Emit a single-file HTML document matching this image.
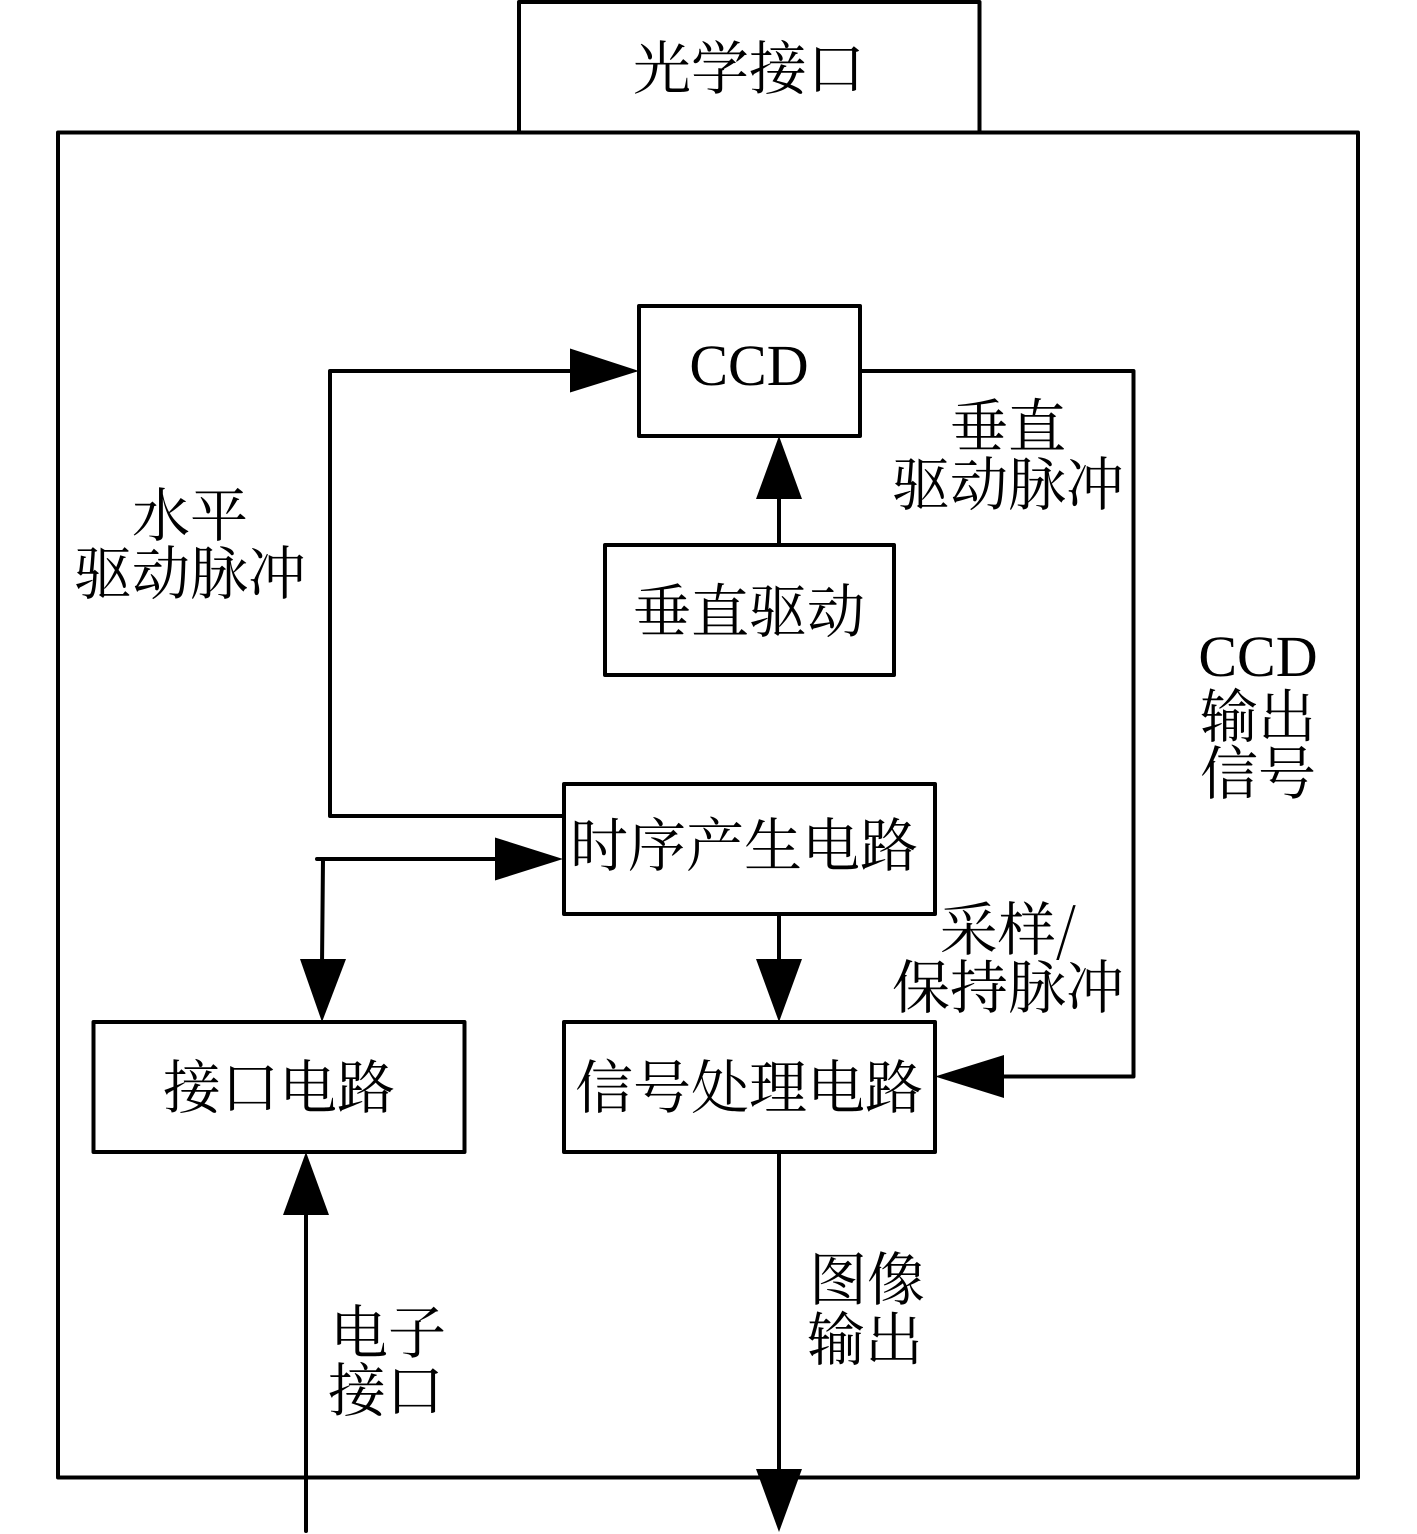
<!DOCTYPE html>
<html><head><meta charset="utf-8">
<style>
html,body{margin:0;padding:0;background:#fff}
svg{display:block}
text{font-family:"Noto Serif CJK SC","Liberation Serif",serif;font-size:58px;fill:#000;text-anchor:middle}
.l{font-family:"Liberation Serif",serif;font-size:58px}
</style></head>
<body>
<svg width="1417" height="1534" viewBox="0 0 1417 1534" xmlns="http://www.w3.org/2000/svg">
<g fill="none" stroke="#000" stroke-width="4" stroke-linejoin="round" stroke-linecap="round">
<path d="M519 132V2H979.500V132"/>
<rect x="58" y="132.500" width="1300" height="1345"/>
<rect x="639" y="306" width="221" height="130"/>
<rect x="605" y="545" width="289" height="130"/>
<rect x="564" y="784" width="371" height="130"/>
<rect x="564" y="1022" width="371" height="130"/>
<rect x="93.500" y="1022" width="371" height="130"/>
<path d="M564 816H330V371H575"/>
<path d="M860 371H1133.500V1076.500H1000"/>
<path d="M779 545V495"/>
<path d="M317 859H500"/>
<path d="M323 859L322 965"/>
<path d="M779 914V965"/>
<path d="M779 1152V1475"/>
<path d="M306 1531V1210"/>
</g>
<g fill="#000">
<path d="M639 371L570 348.500V392.500Z"/>
<path d="M779 436L756 499H802Z"/>
<path d="M563 859L495 837.500V880.500Z"/>
<path d="M322 1022L300 959H346Z"/>
<path d="M779 1022L756 959H802Z"/>
<path d="M935 1076.500L1004 1055V1098Z"/>
<path d="M779 1532L756 1469H802Z"/>
<path d="M306 1152L283 1215H329Z"/>
</g>
<text x="749" y="89">光学接口</text>
<text class="l" x="749" y="385">CCD</text>
<text x="749" y="632">垂直驱动</text>
<text x="744" y="866">时序产生电路</text>
<text x="749" y="1108">信号处理电路</text>
<text x="279" y="1108">接口电路</text>
<text x="190" y="536">水平</text>
<text x="190" y="594">驱动脉冲</text>
<text x="1008" y="447">垂直</text>
<text x="1008" y="505">驱动脉冲</text>
<text class="l" x="1258" y="676">CCD</text>
<text x="1258" y="737">输出</text>
<text x="1258" y="794">信号</text>
<text x="1008" y="950">采样/</text>
<text x="1008" y="1008">保持脉冲</text>
<text x="867" y="1300">图像</text>
<text x="865" y="1360">输出</text>
<text x="388" y="1353">电子</text>
<text x="386" y="1411">接口</text>
</svg>
</body></html>
